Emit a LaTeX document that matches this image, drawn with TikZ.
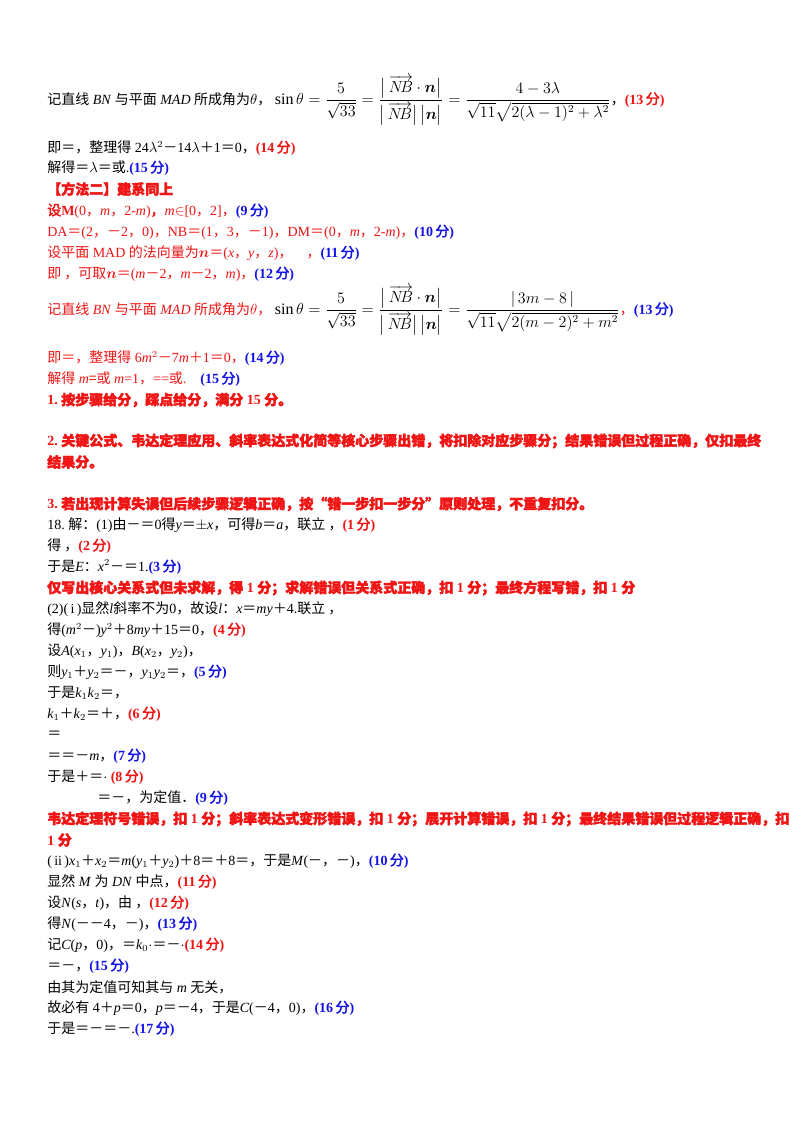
\documentclass[tikz,border=0pt]{standalone}
\usepackage{amsmath}
\usepackage{fontspec}
\setmainfont{Liberation Serif}
\newfontfamily\cjk{Noto Sans CJK SC}
\newfontfamily\cjkb{Noto Sans CJK SC}[FakeBold=2.5]
\definecolor{sred}{RGB}{240,20,20}
\definecolor{sblue}{RGB}{20,20,230}
\newcommand\z[1]{{\cjk #1}}
\newcommand\zb[1]{{\cjkb #1}}
\newcommand\scr[1]{\textcolor{sred}{\textbf{(#1\,}\zb{分}\textbf{)}}}
\newcommand\scb[1]{\textcolor{sblue}{\textbf{(#1\,}\zb{分}\textbf{)}}}
\newcommand\vNB{\overrightarrow{N\!B}}
\begin{document}
\begin{tikzpicture}[x=0.75pt,y=-0.75pt,
  ln/.style={anchor=west,inner sep=0pt,font=\fontsize{10.5}{12}\selectfont},
  rd/.style={ln,text=sred},
  rb/.style={ln,text=sred,font=\fontsize{10.5}{12}\selectfont\bfseries}]
\useasboundingbox (0,0) rectangle (800,1132);
\fill[white] (0,0) rectangle (800,1132);
\node[ln] (l1) at (47,100) {\z{记直线} \textit{BN} \z{与平面} \textit{MAD} \z{所成角为}$\theta$\z{，}
 {\fontsize{12}{14}\selectfont$\sin\theta=\dfrac{5}{\sqrt{33}}=\dfrac{\bigl|\,\vNB\cdot\boldsymbol n\bigr|}{\bigl|\,\vNB\bigr|\,\bigl|\boldsymbol n\bigr|}=\dfrac{4-3\lambda}{\sqrt{11}\sqrt{2(\lambda-1)^2+\lambda^2}}$}\z{，}\scr{13}};
\node[ln] (l2) at (47,148) {\z{即＝，整理得} 24$\lambda^2$\z{－}14$\lambda$\z{＋}1\z{＝}0\z{，}\scr{14}};
\node[ln] (l3) at (47,168) {\z{解得＝}$\lambda$\z{＝或}.\scb{15}};
\node[rb] (l4) at (47,189) {\zb{【方法二】建系同上}};
\node[rd] (l5) at (47,211) {\zb{设}\textbf{M}(0\z{，}\textit{m}\z{，}2-\textit{m})\zb{，}\textit{m}$\in$[0\z{，}2]\z{，}\scb{9}};
\node[rd] (l6) at (47,232) {DA\z{＝}(2\z{，}\z{－}2\z{，}0)\z{，}NB\z{＝}(1\z{，}3\z{，}\z{－}1)\z{，}DM\z{＝}(0\z{，}\textit{m}\z{，}2-\textit{m})\z{，}\scb{10}};
\node[rd] (l7) at (47,253) {\z{设平面} MAD \z{的法向量为}$\boldsymbol n$\z{＝}(\textit{x}\z{，}\textit{y}\z{，}\textit{z})\z{，\quad ，}\scb{11}};
\node[rd] (l8) at (47,274) {\z{即\ ，可取}$\boldsymbol n$\z{＝}(\textit{m}\z{－}2\z{，}\textit{m}\z{－}2\z{，}\textit{m})\z{，}\scb{12}};
\node[rd] (l9) at (47,310) {\z{记直线} \textit{BN} \z{与平面} \textit{MAD} \z{所成角为}$\theta$\z{，}
 \textcolor{black}{\fontsize{12}{14}\selectfont$\sin\theta=\dfrac{5}{\sqrt{33}}=\dfrac{\bigl|\,\vNB\cdot\boldsymbol n\bigr|}{\bigl|\,\vNB\bigr|\,\bigl|\boldsymbol n\bigr|}=\dfrac{|\,3m-8\,|}{\sqrt{11}\sqrt{2(m-2)^2+m^2}}$}\z{，}\scb{13}};
\node[rd] (l10) at (47,358) {\z{即＝，整理得} 6\textit{m}$^2$\z{－}7\textit{m}\z{＋}1\z{＝}0\z{，}\scb{14}};
\node[rd] (l11) at (47,379) {\z{解得} \textit{m}\z{=或} \textit{m}=1\z{，}==\z{或}.\quad\scb{15}};
\node[rb] (l12) at (47,400) {1.\ \zb{按步骤给分，踩点给分，满分} 15 \zb{分。}};
\node[rb] (l13) at (47,441) {2.\ \zb{关键公式、韦达定理应用、斜率表达式化简等核心步骤出错，将扣除对应步骤分；结果错误但过程正确，仅扣最终}};
\node[rb] (l14) at (47,462) {\zb{结果分。}};
\node[rb] (l15) at (47,504) {3.\ \zb{若出现计算失误但后续步骤逻辑正确，按“错一步扣一步分”原则处理，不重复扣分。}};
\node[ln] (l16) at (47,525) {18.\ \z{解：}(1)\z{由－＝}0\z{得}\textit{y}\z{＝}$\pm$\textit{x}\z{，可得}\textit{b}\z{＝}\textit{a}\z{，联立\ ，}\scr{1}};
\node[ln] (l17) at (47,546) {\z{得\ ，}\scr{2}};
\node[ln] (l18) at (47,567) {\z{于是}\textit{E}\z{：}\textit{x}$^2$\z{－＝}1.\scb{3}};
\node[rb] (l19) at (47,588) {\zb{仅写出核心关系式但未求解，得} 1 \zb{分；求解错误但关系式正确，扣} 1 \zb{分；最终方程写错，扣} 1 \zb{分}};
\node[ln] (l20) at (47,609) {(2)(\,i\,)\z{显然}\textit{l}\z{斜率不为}0\z{，故设}\textit{l}\z{：}\textit{x}\z{＝}\textit{my}\z{＋}4.\z{联立\ ，}};
\node[ln] (l21) at (47,630) {\z{得}(\textit{m}$^2$\z{－})\textit{y}$^2$\z{＋}8\textit{my}\z{＋}15\z{＝}0\z{，}\scr{4}};
\node[ln] (l22) at (47,651) {\z{设}\textit{A}(\textit{x}$_1$\z{，}\textit{y}$_1$)\z{，}\textit{B}(\textit{x}$_2$\z{，}\textit{y}$_2$)\z{，}};
\node[ln] (l23) at (47,672) {\z{则}\textit{y}$_1$\z{＋}\textit{y}$_2$\z{＝－，}\textit{y}$_1$\textit{y}$_2$\z{＝，}\scb{5}};
\node[ln] (l24) at (47,693) {\z{于是}\textit{k}$_1$\textit{k}$_2$\z{＝，}};
\node[ln] (l25) at (47,714) {\textit{k}$_1$\z{＋}\textit{k}$_2$\z{＝＋，}\scr{6}};
\node[ln] (l26) at (47,735) {\z{＝}};
\node[ln] (l27) at (47,756) {\z{＝＝－}\textit{m}\z{，}\scb{7}};
\node[ln] (l28) at (47,777) {\z{于是＋＝}$\cdot$\ \scr{8}};
\node[ln] (l29) at (97,798) {\z{＝－，为定值．}\scb{9}};
\node[rb] (l30) at (47,819) {\zb{韦达定理符号错误，扣} 1 \zb{分；斜率表达式变形错误，扣} 1 \zb{分；展开计算错误，扣} 1 \zb{分；最终结果错误但过程逻辑正确，扣}};
\node[rb] (l31) at (47,840) {1 \zb{分}};
\node[ln] (l32) at (47,861) {(\,ii\,)\textit{x}$_1$\z{＋}\textit{x}$_2$\z{＝}\textit{m}(\textit{y}$_1$\z{＋}\textit{y}$_2$)\z{＋}8\z{＝＋}8\z{＝，于是}\textit{M}(\z{－，－})\z{，}\scb{10}};
\node[ln] (l33) at (47,882) {\z{显然} \textit{M} \z{为} \textit{DN} \z{中点，}\scr{11}};
\node[ln] (l34) at (47,903) {\z{设}\textit{N}(\textit{s}\z{，}\textit{t})\z{，由\ ，}\scr{12}};
\node[ln] (l35) at (47,924) {\z{得}\textit{N}(\z{－－}4\z{，－})\z{，}\scb{13}};
\node[ln] (l36) at (47,945) {\z{记}\textit{C}(\textit{p}\z{，}0)\z{，＝}\textit{k}$_0$$\cdot$\z{＝－}$\cdot$\scr{14}};
\node[ln] (l37) at (47,966) {\z{＝－，}\scb{15}};
\node[ln] (l38) at (47,987) {\z{由其为定值可知其与} \textit{m} \z{无关，}};
\node[ln] (l39) at (47,1008) {\z{故必有} 4\z{＋}\textit{p}\z{＝}0\z{，}\textit{p}\z{＝－}4\z{，于是}\textit{C}(\z{－}4\z{，}0)\z{，}\scb{16}};
\node[ln] (l40) at (47,1029) {\z{于是＝－＝－}.\scb{17}};
\end{tikzpicture}
\end{document}
